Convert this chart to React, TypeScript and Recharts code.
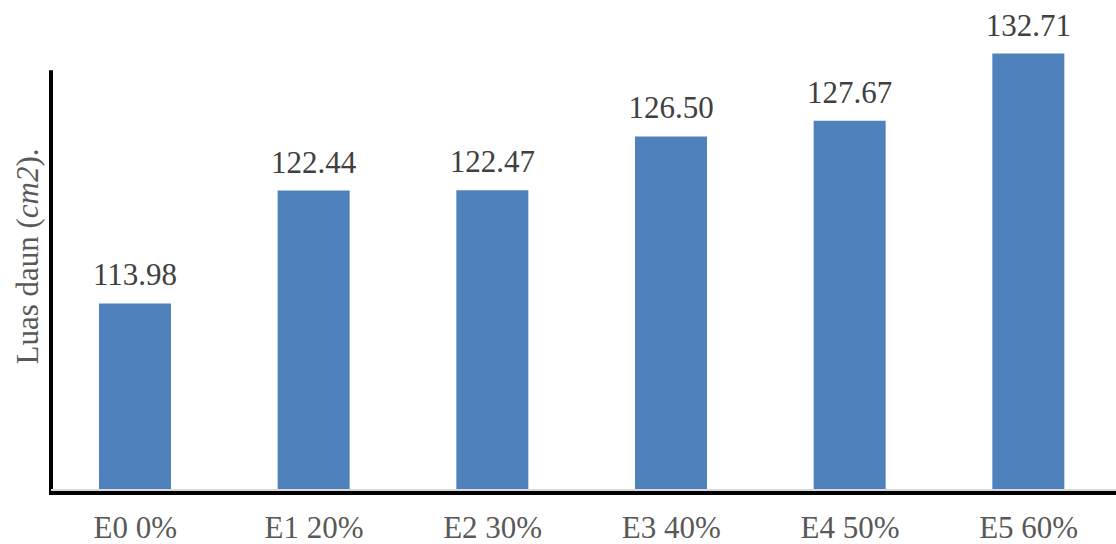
import React from 'react';
import { BarChart, Bar, XAxis, YAxis, LabelList, ReferenceLine } from 'recharts';

// Leaf area per treatment (cm2)
const treatments = ['E0 0%', 'E1 20%', 'E2 30%', 'E3 40%', 'E4 50%', 'E5 60%'];
const leafArea = [113.98, 122.44, 122.47, 126.5, 127.67, 132.71];

const valueDomain = [100, 135];
const axisLineTop = 131.3;

const data = treatments.map((name, i) => ({ name, area: leafArea[i] }));

const FONT = '"Liberation Serif", "Times New Roman", serif';

const YLabel = ({ viewBox }: any) => {
  const cx = 27;
  const cy = viewBox.y + viewBox.height / 2;
  return (
    <text
      x={cx}
      y={cy}
      transform={`rotate(-90 ${cx} ${cy})`}
      textAnchor="middle"
      dominantBaseline="central"
      fontFamily={FONT}
      fontSize={31}
      fill="#595959"
    >
      Luas daun (<tspan fontStyle="italic">cm2</tspan>).
    </text>
  );
};

const App: React.FC = () => {
  return (
    <div style={{ position: 'absolute', left: 0, top: 0, width: 1116, height: 544, overflow: 'hidden', background: '#fff', fontFamily: FONT }}>
      <BarChart width={1120} height={544} data={data} margin={{ top: 23, right: 2, bottom: 0, left: 0 }}>
        <YAxis
          domain={valueDomain}
          width={51}
          tick={false}
          tickLine={false}
          axisLine={false}
          label={{ content: <YLabel /> }}
        />
        <Bar dataKey="area" xAxisId="cat" fill="#4F81BD" barSize={72} isAnimationActive={false}>
          <LabelList
            dataKey="area"
            position="top"
            offset={18}
            formatter={(v: any) => Number(v).toFixed(2)}
            fontFamily={FONT}
            fontSize={31}
            fill="#404040"
          />
        </Bar>
        {/* thin grey base line right under the bars */}
        <XAxis
          xAxisId="base"
          type="number"
          domain={[0, 1]}
          allowDataOverflow
          height={3}
          tick={false}
          tickLine={false}
          axisLine={{ stroke: '#d9d9d9', strokeWidth: 2 }}
        />
        <XAxis
          xAxisId="cat"
          dataKey="name"
          height={51}
          padding={{ left: -5, right: 0 }}
          tickLine={false}
          tickSize={0}
          tickMargin={23}
          axisLine={{ stroke: '#000', strokeWidth: 4, strokeLinecap: 'square' }}
          tick={{ fontFamily: FONT, fontSize: 31, fill: '#595959' }}
          interval={0}
        />
        <ReferenceLine
          xAxisId="base"
          segment={[{ x: 0, y: valueDomain[0] }, { x: 0, y: axisLineTop }]}
          stroke="#000"
          strokeWidth={4}
          strokeLinecap="square"
        />
      </BarChart>
    </div>
  );
};

export default App;
